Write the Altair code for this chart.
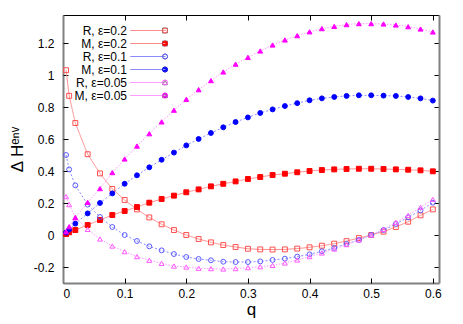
import altair as alt
import pandas as pd

q = [0.005, 0.01, 0.02, 0.04, 0.06, 0.08, 0.10, 0.12, 0.14, 0.16, 0.18, 0.20,
     0.22, 0.24, 0.26, 0.28, 0.30, 0.32, 0.34, 0.36, 0.38, 0.40, 0.42, 0.44,
     0.46, 0.48, 0.50, 0.52, 0.54, 0.56, 0.58, 0.60]

series_names = ["R, ε=0.2", "M, ε=0.2", "R, ε=0.1", "M, ε=0.1", "R, ε=0.05", "M, ε=0.05"]

R02 = [1.03, 0.87, 0.70, 0.505, 0.385, 0.288, 0.219, 0.16, 0.11, 0.067, 0.031, 0.0,
       -0.025, -0.046, -0.063, -0.075, -0.086, -0.09, -0.091, -0.09, -0.085, -0.077,
       -0.067, -0.054, -0.038, -0.019, 0.0, 0.021, 0.05, 0.083, 0.123, 0.16]
M02 = [0.006, 0.017, 0.031, 0.0625, 0.094, 0.125, 0.15, 0.175, 0.202, 0.225, 0.246, 0.267,
       0.285, 0.304, 0.32, 0.335, 0.35, 0.3625, 0.375, 0.383, 0.392, 0.40,
       0.406, 0.41, 0.4125, 0.414, 0.414, 0.4125, 0.41, 0.408, 0.404, 0.398]
R01 = [0.50, 0.41, 0.31, 0.19, 0.1125, 0.05, 0.0, -0.0375, -0.071, -0.096, -0.119, -0.1375,
       -0.15, -0.158, -0.167, -0.169, -0.169, -0.165, -0.156, -0.148, -0.135, -0.121,
       -0.102, -0.081, -0.056, -0.031, 0.0, 0.031, 0.069, 0.11, 0.154, 0.202]
M01 = [0.015, 0.035, 0.071, 0.135, 0.20, 0.26, 0.32, 0.373, 0.423, 0.47, 0.515, 0.56,
       0.60, 0.6375, 0.673, 0.706, 0.735, 0.7625, 0.785, 0.806, 0.824, 0.842,
       0.854, 0.8625, 0.869, 0.873, 0.873, 0.871, 0.869, 0.8625, 0.854, 0.84]
R005 = [0.24, 0.19, 0.11, 0.035, -0.025, -0.069, -0.104, -0.135, -0.158, -0.177, -0.194, -0.20,
        -0.208, -0.21, -0.2125, -0.21, -0.204, -0.198, -0.19, -0.175, -0.156, -0.135,
        -0.1125, -0.0875, -0.06, -0.031, 0.0, 0.035, 0.079, 0.123, 0.173, 0.223]
M005 = [0.021, 0.052, 0.108, 0.204, 0.29, 0.39, 0.475, 0.556, 0.633, 0.707, 0.78, 0.848,
        0.908, 0.965, 1.019, 1.068, 1.11, 1.15, 1.1875, 1.219, 1.246, 1.27,
        1.29, 1.304, 1.315, 1.321, 1.321, 1.319, 1.3125, 1.302, 1.2875, 1.269]

x_ticks = [0, 0.1, 0.2, 0.3, 0.4, 0.5, 0.6]
y_ticks = [-0.2, 0, 0.2, 0.4, 0.6, 0.8, 1.0, 1.2]

line_colors = ["#ff8c8c", "#ff8c8c", "#8c8cff", "#8c8cff", "#ff9cff", "#ff9cff"]
marker_colors = ["#ff5050", "#ff0000", "#5a5aff", "#0000ff", "#ff5aff", "#ff00ff"]
marker_fills = ["transparent", "#ff0000", "transparent", "#0000ff", "transparent", "#ff00ff"]
marker_shapes = ["square", "square", "circle", "circle", "triangle-up", "triangle-up"]
line_dashes = [[1, 0], [1, 0], [2, 2], [2, 2], [1.5, 1.5], [1.5, 1.5]]

rows = []
for name, vals in zip(series_names, [R02, M02, R01, M01, R005, M005]):
    for qq, v in zip(q, vals):
        rows.append({"q": qq, "v": v, "series": name, "series2": name, "series3": name})
df = pd.DataFrame(rows)

W, H = 376, 268
FONT = "Liberation Sans"
xscale = alt.Scale(domain=[0, 0.61], nice=False, zero=False)
yscale = alt.Scale(domain=[-0.3, 1.375], nice=False, zero=False)
lab = "toString(round(datum.value*10)/10)"
GRAY = "#808080"

common = dict(orient="none", legendY=9, title=None, clipHeight=13, rowPadding=0, padding=0)
# legend of sample lines (no labels)
legA = alt.Legend(legendX=67, symbolType="stroke", symbolSize=1225, symbolStrokeWidth=1,
                  labelExpr="''", **common)
# legend of markers (no labels)
legB = alt.Legend(legendX=97, symbolSize=25, symbolStrokeWidth=1, symbolFillColor="transparent",
                  labelExpr="''", **common)
# legend of texts (invisible symbols), right aligned
legC = alt.Legend(legendX=52, symbolSize=16, symbolStrokeWidth=1, symbolOpacity=0,
                  labelAlign="right", labelOffset=0, labelFont=FONT, labelFontSize=12,
                  labelColor="black", **common)

base = alt.Chart(df)

lines = base.mark_line(strokeWidth=1).encode(
    x=alt.X("q:Q", scale=xscale,
            axis=alt.Axis(orient="bottom", values=x_ticks, labelExpr=lab, ticks=False, tickSize=0,
                          grid=False, domainColor=GRAY, domainWidth=2, labelPadding=5,
                          title="q", titlePadding=2)),
    y=alt.Y("v:Q", scale=yscale,
            axis=alt.Axis(orient="left", values=y_ticks, labelExpr=lab, ticks=False, tickSize=0,
                          grid=False, domainColor=GRAY, domainWidth=2, labelPadding=9,
                          title="Δ Hᵉⁿᵛ", titlePadding=7)),
    stroke=alt.Stroke("series:N", sort=series_names, scale=alt.Scale(range=line_colors), legend=legA),
    strokeDash=alt.StrokeDash("series:N", sort=series_names, scale=alt.Scale(range=line_dashes), legend=legA),
)

points = base.mark_point(filled=False, size=24, strokeWidth=1, opacity=1).encode(
    x=alt.X("q:Q", scale=xscale,
            axis=alt.Axis(orient="top", offset=-H, values=x_ticks, labels=False, domain=False,
                          tickSize=5, tickColor="black", grid=False, title=None)),
    y=alt.Y("v:Q", scale=yscale,
            axis=alt.Axis(orient="right", offset=-W, values=y_ticks, labels=False, domain=False,
                          tickSize=5, tickColor="black", grid=False, title=None)),
    stroke=alt.Stroke("series2:N", sort=series_names, scale=alt.Scale(range=marker_colors), legend=legB),
    fill=alt.Fill("series2:N", sort=series_names, scale=alt.Scale(range=marker_fills), legend=legB),
    shape=alt.Shape("series2:N", sort=series_names, scale=alt.Scale(range=marker_shapes), legend=legB),
)

frame = base.mark_point(opacity=0).encode(
    x=alt.X("q:Q", scale=xscale,
            axis=alt.Axis(orient="bottom", offset=-H, values=x_ticks, labels=False,
                          domainColor="black", domainWidth=1, tickSize=5, tickColor="black",
                          grid=False, title=None)),
    y=alt.Y("v:Q", scale=yscale,
            axis=alt.Axis(orient="left", offset=-W, values=y_ticks, labels=False,
                          domainColor=GRAY, domainWidth=2, tickSize=5, tickColor="black",
                          grid=False, title=None)),
    shape=alt.Shape("series3:N", sort=series_names,
                    scale=alt.Scale(range=["circle"] * 6), legend=legC),
)

chart = alt.layer(lines, points, frame).resolve_scale(
    stroke="independent", shape="independent"
).resolve_axis(
    x="independent", y="independent"
).properties(
    width=W, height=H, autosize="none",
    padding={"left": 55, "top": 7, "right": 16, "bottom": 38},
).configure_view(stroke=None).configure_axis(
    labelFont=FONT, labelFontSize=12, labelColor="black",
    titleFont=FONT, titleFontSize=17, titleFontWeight="normal", titleColor="black",
)

chart.save("out.html", embed_options={"renderer": "svg", "actions": False})
